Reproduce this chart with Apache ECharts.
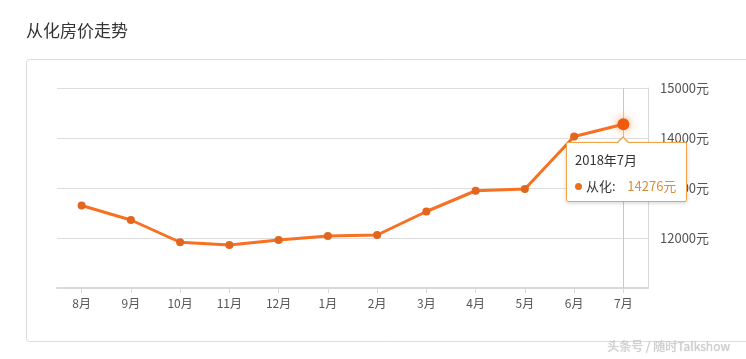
<!DOCTYPE html>
<html><head><meta charset="utf-8">
<script src="https://cdn.jsdelivr.net/npm/echarts@6/dist/echarts.min.js"></script>
<style>html,body{margin:0;padding:0;background:#fff}#c{width:746px;height:359px}</style>
</head><body><div id="c"></div>
<script>
var categories = ['8月','9月','10月','11月','12月','1月','2月','3月','4月','5月','6月','7月'];
var prices = [12650, 12360, 11915, 11860, 11960, 12040, 12060, 12530, 12945, 12980, 14030, 14276];
var tooltipTitles = ['2017年8月','2017年9月','2017年10月','2017年11月','2017年12月','2018年1月','2018年2月','2018年3月','2018年4月','2018年5月','2018年6月','2018年7月'];
var seriesName = '从化';
var yMin = 11000, yMax = 15000, yStep = 1000;

var chart = echarts.init(document.getElementById('c'), null, {renderer:'canvas'});
var font = '"Noto Sans CJK SC", "Microsoft YaHei", sans-serif';
chart.setOption({
  animation: false,
  textStyle: {fontFamily: font},
  title: {text: '从化房价走势', left: 21, top: 17, textStyle: {fontSize: 17, fontWeight: 'normal', color: '#333', fontFamily: font}},
  graphic: [
    {type: 'rect', left: 26, top: 59, shape: {width: 740, height: 282, r: 3}, style: {fill: '#fff', stroke: '#dcdcdc', lineWidth: 1}, z: -10},
    {type: 'text', right: 16, top: 340, style: {text: '头条号 / 随时Talkshow', fill: '#d0d0d0', font: '12px ' + font, textShadowColor: 'rgba(0,0,0,0.25)', textShadowBlur: 1}}
  ],
  grid: {left: 57, right: 98, top: 88, bottom: 71},
  tooltip: {
    trigger: 'axis',
    alwaysShowContent: true,
    transitionDuration: 0,
    backgroundColor: '#fff',
    borderColor: '#f0a54a',
    borderWidth: 1,
    padding: [8, 10, 6, 8],
    extraCssText: 'box-shadow:0 1px 4px rgba(0,0,0,0.18);border-radius:2px;overflow:visible;',
    axisPointer: {type: 'line', z: 1, lineStyle: {color: '#c8c8c8', width: 1, type: 'solid'}},
    position: function () { return [566, 142]; },
    formatter: function (params) {
      var p = params[0];
      return '<div style="position:relative;font-family:' + font.replace(/"/g, "'") + ';">' +
        '<div style="position:absolute;left:41px;top:-15px;width:0;height:0;border-left:7px solid transparent;border-right:7px solid transparent;border-bottom:7px solid #f0a54a;"></div>' +
        '<div style="position:absolute;left:42px;top:-13px;width:0;height:0;border-left:6px solid transparent;border-right:6px solid transparent;border-bottom:6px solid #fff;"></div>' +
        '<div style="font-size:13px;color:#333;line-height:18px;">' + tooltipTitles[p.dataIndex] + '</div>' +
        '<div style="font-size:13px;color:#333;line-height:18px;margin-top:8px;white-space:nowrap;">' +
        '<span style="display:inline-block;width:7px;height:7px;border-radius:50%;background:#e8701e;margin-right:4px;vertical-align:1px;"></span>' +
        seriesName + ':&nbsp;&nbsp;&nbsp;&nbsp;<span style="color:#d98f3a;">' + p.value + '元</span></div></div>';
    }
  },
  xAxis: {
    type: 'category',
    data: categories,
    boundaryGap: true,
    axisLine: {show: true, lineStyle: {color: '#d8d8d8', width: 2}},
    axisTick: {show: true, alignWithLabel: true, length: 5, lineStyle: {color: '#d8d8d8'}},
    axisLabel: {color: '#555', fontSize: 12, margin: 9},
    splitLine: {show: false}
  },
  yAxis: {
    type: 'value',
    position: 'right',
    min: yMin, max: yMax, interval: yStep,
    axisLine: {show: true, lineStyle: {color: '#d8d8d8'}},
    axisTick: {show: false},
    axisLabel: {color: '#555', fontSize: 13, margin: 12, showMinLabel: false, formatter: function (v) { return v + '元'; }},
    splitLine: {show: true, lineStyle: {color: '#dddddd'}}
  },
  series: [{
    name: seriesName,
    type: 'line',
    z: 5,
    data: prices,
    symbol: 'circle',
    symbolSize: 8,
    lineStyle: {color: '#e2661e', width: 3},
    itemStyle: {color: '#e2661e'},
    emphasis: {scale: 1.5, lineStyle: {width: 3}, itemStyle: {color: '#f05a0c', borderColor: '#f05a0c', borderWidth: 0, shadowBlur: 10, shadowColor: 'rgba(245,120,40,0.7)'}}
  }]
});
chart.dispatchAction({type: 'showTip', seriesIndex: 0, dataIndex: 11});
</script></body></html>
